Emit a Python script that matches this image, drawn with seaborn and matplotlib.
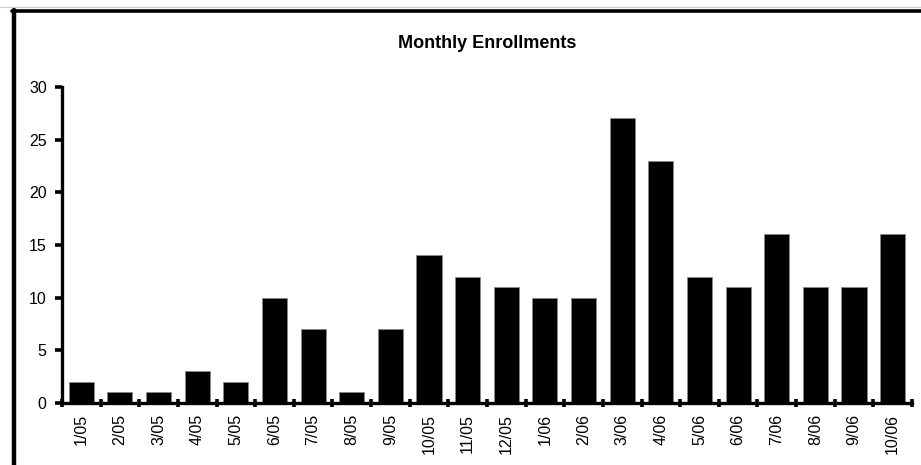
import matplotlib
matplotlib.use("Agg")
import matplotlib.pyplot as plt
import seaborn as sns
import pandas as pd
from matplotlib.lines import Line2D
from matplotlib.ticker import FixedLocator

sns.set_style("ticks")
plt.rcParams['font.family'] = ['Liberation Sans', 'DejaVu Sans']
plt.rcParams['text.color'] = 'black'
plt.rcParams['xtick.labelcolor'] = 'black'
plt.rcParams['ytick.labelcolor'] = 'black'

# data
months = ['1/05', '2/05', '3/05', '4/05', '5/05', '6/05', '7/05', '8/05', '9/05', '10/05',
          '11/05', '12/05', '1/06', '2/06', '3/06', '4/06', '5/06', '6/06', '7/06', '8/06',
          '9/06', '10/06']
enrollments = [2, 1, 1, 3, 2, 10, 7, 1, 7, 14, 12, 11, 10, 10, 27, 23, 12, 11, 16, 11, 11, 16]

df = pd.DataFrame({'month': months, 'enrollments': enrollments})

fig = plt.figure(figsize=(9.21, 4.65), dpi=100)
ax = fig.add_axes([0.0673, 0.1333, 0.9229, 0.68])

sns.barplot(data=df, x='month', y='enrollments', color='black', width=0.65,
            edgecolor='#888888', linewidth=0.6, saturation=1, ax=ax)

ax.set_xlim(-0.5, len(months) - 0.5)
ax.set_ylim(0, 30)
ax.set_yticks(range(0, 31, 5))
ax.set_xlabel('')
ax.set_ylabel('')
ax.set_title('Monthly Enrollments', fontsize=13, fontweight='bold', pad=28, color='black')

sns.despine(ax=ax)
for s in ['left', 'bottom']:
    ax.spines[s].set_linewidth(2.4)
    ax.spines[s].set_color('black')

# labels in the middle, tick marks on category boundaries
ax.tick_params(axis='x', which='major', length=0, pad=8, labelsize=11.5, rotation=90)
ax.xaxis.set_minor_locator(FixedLocator([i - 0.5 for i in range(len(months) + 1)]))
ax.tick_params(axis='x', which='minor', direction='inout', length=6, width=2.6, color='black')
ax.tick_params(axis='y', direction='out', length=5, width=2.6, labelsize=11.5, pad=6,
               color='black')

# outer frame (left and top edges)
fig.add_artist(Line2D([0.0152, 0.0152], [0.0, 0.978], transform=fig.transFigure,
                      color='black', linewidth=3.2))
fig.add_artist(Line2D([0.0130, 1.0], [0.976, 0.976], transform=fig.transFigure,
                      color='black', linewidth=2.6))
fig.add_artist(Line2D([0.0, 1.0], [0.986, 0.986], transform=fig.transFigure,
                      color='#cccccc', linewidth=0.8))

fig.savefig('out.png', dpi=100)
